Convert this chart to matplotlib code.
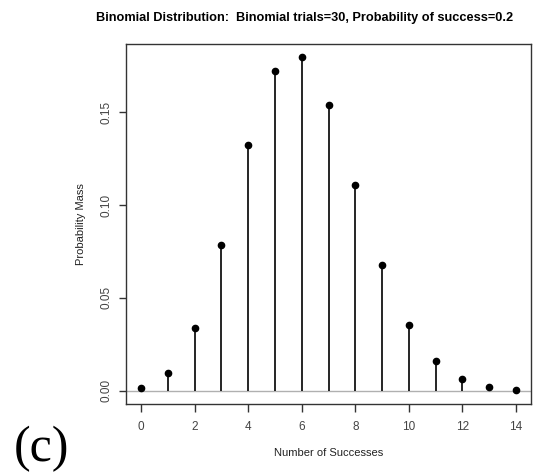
import matplotlib.pyplot as plt

# binomial pmf, n=30, p=0.2
successes = [0, 1, 2, 3, 4, 5, 6, 7, 8, 9, 10, 11, 12, 13, 14]
prob_mass = [0.0012, 0.0093, 0.0337, 0.0785, 0.1325, 0.1723, 0.1795,
             0.1538, 0.1106, 0.0676, 0.0355, 0.0161, 0.0064, 0.0022, 0.0006]
x_ticks = [0, 2, 4, 6, 8, 10, 12, 14]
y_ticks = [0.00, 0.05, 0.10, 0.15]
y_ticklabels = ["0.00", "0.05", "0.10", "0.15"]

plt.rcParams['font.family'] = ['Liberation Sans', 'DejaVu Sans']

fig = plt.figure(figsize=(5.59, 4.74), dpi=100)
ax = fig.add_axes([126 / 559, 1 - 404 / 474, 405 / 559, 360 / 474])

ax.axhline(0, color='#b0b0b0', lw=1, zorder=1)
ax.vlines(successes, 0, prob_mass, color='black', lw=1.2, zorder=2)
ax.plot(successes, prob_mass, 'o', color='black', ms=4.5, zorder=3)

ax.set_xlim(-0.56, 14.56)
ax.set_ylim(-0.0072, 0.1867)
ax.set_xticks(x_ticks)
ax.set_yticks(y_ticks)
ax.set_yticklabels(y_ticklabels, rotation=90, va='center')
ax.tick_params(direction='out', width=1, colors='#333333',
               labelsize=8.5, labelcolor='#444444')
ax.tick_params(axis='x', length=5.5, pad=7)
ax.tick_params(axis='y', length=5, pad=4.5)
for s in ax.spines.values():
    s.set_color('#333333')
    s.set_linewidth(1)

ax.set_xlabel("Number of Successes", fontsize=8, color='#222222', va='center')
ax.xaxis.set_label_coords(0.5, -49 / 360)
ax.set_ylabel("Probability Mass", fontsize=8, color='#222222',
              va='center', ha='center')
ax.yaxis.set_label_coords(-45 / 405, 0.5)

fig.text(305 / 559, 1 - 18 / 474,
         "Binomial Distribution:  Binomial trials=30, Probability of success=0.2",
         ha='center', va='center', fontsize=9.2, fontweight='bold')
fig.text(41 / 559, 1 - 449 / 474, "(c)", ha='center', va='center',
         fontsize=36, family=['Liberation Serif', 'DejaVu Serif'])

fig.savefig('out.png', dpi=100)
